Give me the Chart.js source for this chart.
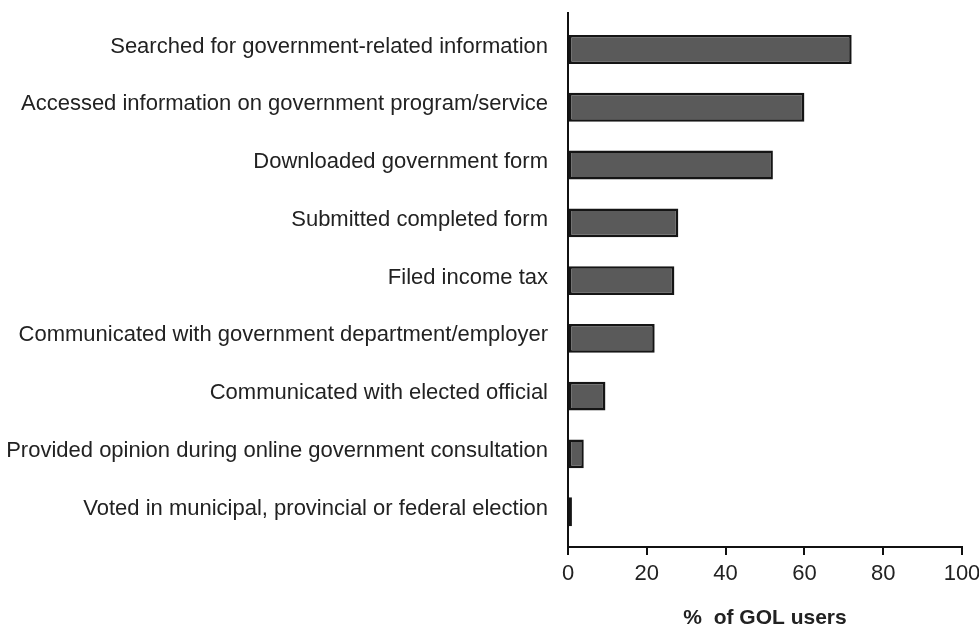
<!DOCTYPE html>
<html>
<head>
<meta charset="utf-8">
<script src="https://cdn.jsdelivr.net/npm/chart.js@4/dist/chart.umd.min.js"></script>
<style>
  html, body { margin: 0; padding: 0; background: #ffffff; }
  #wrap { position: relative; width: 979px; height: 629px; }
</style>
</head>
<body>
<div id="wrap"><canvas id="c"></canvas></div>
<script>
const categories = [
  "Searched for government-related information",
  "Accessed information on government program/service",
  "Downloaded government form",
  "Submitted completed form",
  "Filed income tax",
  "Communicated with government department/employer",
  "Communicated with elected official",
  "Provided opinion during online government consultation",
  "Voted in municipal, provincial or federal election"
];
const values = [72, 60, 52, 28, 27, 22, 9.5, 4, 1];
const xTicks = [0, 20, 40, 60, 80, 100];
const xTitle = "%  of GOL users";

const FONT = "'Liberation Sans', Arial, Helvetica, sans-serif";

new Chart(document.getElementById('c'), {
  type: 'bar',
  data: {
    datasets: [{
      data: values.map((v, i) => ({ x: v, y: i })),
      backgroundColor: '#5a5a5a',
      borderColor: '#151515',
      borderWidth: 2.5,
      borderSkipped: false,
      barPercentage: 0.5,
      categoryPercentage: 1.0
    }]
  },
  options: {
    indexAxis: 'y',
    responsive: true,
    maintainAspectRatio: false,
    animation: false,
    layout: { padding: { top: 13, left: 0, right: 0, bottom: 0 } },
    plugins: { legend: { display: false }, tooltip: { enabled: false } },
    scales: {
      y: {
        type: 'linear',
        reverse: true,
        offset: false,
        min: -0.632,
        max: 8.611,
        afterFit(scale) { scale.width = 568; scale.paddingTop = 0; scale.paddingBottom = 0; },
        grid: { display: false, drawTicks: false },
        border: { display: true, color: '#111111', width: 2 },
        afterBuildTicks(scale) {
          scale.ticks = categories.map((c, i) => ({ value: i }));
        },
        ticks: {
          autoSkip: false,
          padding: 20,
          labelOffset: -3,
          color: '#222222',
          font: { family: FONT, size: 22 },
          callback: (v) => categories[v]
        }
      },
      x: {
        type: 'linear',
        min: 0,
        max: 100,
        offset: false,
        afterBuildTicks(scale) {
          scale.ticks = xTicks.map(v => ({ value: v }));
        },
        afterFit(scale) { scale.height = 82; scale.paddingRight = 17; },
        grid: {
          drawOnChartArea: false,
          drawTicks: true,
          tickLength: 8,
          color: '#111111',
          lineWidth: 2
        },
        border: { display: true, color: '#111111', width: 2 },
        ticks: {
          padding: 6,
          color: '#222222',
          font: { family: FONT, size: 22 }
        },
        title: {
          display: true,
          text: xTitle,
          color: '#222222',
          padding: { top: 0, bottom: 0 },
          font: { family: FONT, size: 21, weight: 'bold', lineHeight: 1 }
        }
      }
    }
  }
});
</script>
</body>
</html>
